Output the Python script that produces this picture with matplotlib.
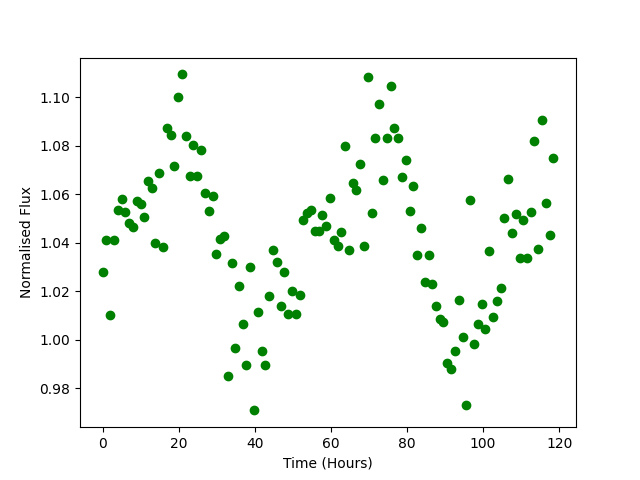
import matplotlib
matplotlib.use("Agg")
import matplotlib.pyplot as plt

# time of each observation (hours)
hours = [0.0, 1.0, 2.0, 3.0, 4.0, 5.0, 6.0, 7.0, 8.0, 9.0,
         10.0, 11.0, 12.0, 12.9, 13.9, 14.9, 15.9, 16.9, 17.9, 18.9,
         19.9, 20.9, 21.9, 22.9, 23.9, 24.9, 25.9, 26.9, 27.9, 28.9,
         29.9, 30.9, 31.9, 32.9, 33.9, 34.9, 35.9, 36.9, 37.8, 38.8,
         39.8, 40.8, 41.8, 42.8, 43.8, 44.8, 45.8, 46.8, 47.8, 48.8,
         49.8, 50.8, 51.8, 52.8, 53.8, 54.8, 55.8, 56.8, 57.8, 58.8,
         59.8, 60.8, 61.8, 62.7, 63.7, 64.7, 65.7, 66.7, 67.7, 68.7,
         69.7, 70.7, 71.7, 72.7, 73.7, 74.7, 75.7, 76.7, 77.7, 78.7,
         79.7, 80.7, 81.7, 82.7, 83.7, 84.7, 85.7, 86.7, 87.6, 88.6,
         89.6, 90.6, 91.6, 92.6, 93.6, 94.6, 95.6, 96.6, 97.6, 98.6,
         99.6, 100.6, 101.6, 102.6, 103.6, 104.6, 105.6, 106.6, 107.6, 108.6,
         109.6, 110.6, 111.6, 112.5, 113.5, 114.5, 115.5, 116.5, 117.5, 118.5]

flux = [1.0281, 1.0410, 1.0100, 1.0410, 1.0537, 1.0580, 1.0529, 1.0480, 1.0465, 1.0574,
        1.0560, 1.0508, 1.0654, 1.0628, 1.0398, 1.0687, 1.0384, 1.0872, 1.0846, 1.0715,
        1.1003, 1.1095, 1.0839, 1.0677, 1.0802, 1.0674, 1.0784, 1.0607, 1.0533, 1.0595,
        1.0355, 1.0414, 1.0427, 0.9852, 1.0318, 0.9964, 1.0223, 1.0063, 0.9894, 1.0298,
        0.9708, 1.0115, 0.9955, 0.9894, 1.0182, 1.0372, 1.0322, 1.0137, 1.0281, 1.0104,
        1.0199, 1.0104, 1.0186, 1.0496, 1.0523, 1.0535, 1.0450, 1.0450, 1.0516, 1.0471,
        1.0586, 1.0410, 1.0388, 1.0446, 1.0801, 1.0372, 1.0645, 1.0618, 1.0727, 1.0388,
        1.1085, 1.0524, 1.0834, 1.0974, 1.0661, 1.0834, 1.1048, 1.0875, 1.0834, 1.0673,
        1.0743, 1.0533, 1.0636, 1.0351, 1.0459, 1.0236, 1.0351, 1.0228, 1.0141, 1.0087,
        1.0071, 0.9902, 0.9877, 0.9955, 1.0162, 1.0013, 0.9729, 1.0578, 0.9984, 1.0063,
        1.0149, 1.0046, 1.0368, 1.0092, 1.0158, 1.0215, 1.0504, 1.0665, 1.0442, 1.0520,
        1.0339, 1.0496, 1.0339, 1.0529, 1.0821, 1.0376, 1.0908, 1.0566, 1.0434, 1.0751]

fig, ax = plt.subplots(figsize=(6.4, 4.8), dpi=100)
ax.plot(hours, flux, 'go')
ax.set_xlabel("Time (Hours)")
ax.set_ylabel("Normalised Flux")
fig.savefig("out.png")
